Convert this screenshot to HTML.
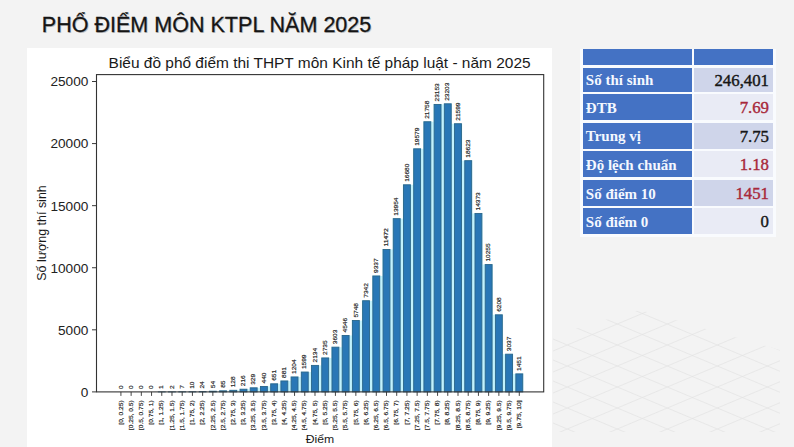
<!DOCTYPE html>
<html><head><meta charset="utf-8">
<style>
html,body{margin:0;padding:0;}
body{width:794px;height:447px;overflow:hidden;position:relative;background:#f3f3f3;font-family:"Liberation Sans",sans-serif;}
svg{position:absolute;left:0;top:0;}
.hc{position:absolute;background:#4472c4;}
.lc{position:absolute;left:582.8px;width:106px;padding-left:3px;background:#4472c4;color:#f4f8ff;font-family:"Liberation Serif",serif;font-weight:bold;font-size:15px;padding-top:2px;white-space:nowrap;}
.rc{position:absolute;left:693.5px;width:75.5px;padding-right:4px;text-align:right;font-family:"Liberation Serif",serif;font-size:16.8px;padding-top:2px;-webkit-text-stroke:0.4px currentColor;white-space:nowrap;}
</style></head><body>
<svg width="794" height="447" viewBox="0 0 794 447" font-family='"Liberation Sans", sans-serif'>
<defs><radialGradient id="gm" cx="0.5" cy="0.5" r="0.6"><stop offset="0" stop-color="#fff" stop-opacity="1"/><stop offset="1" stop-color="#fff" stop-opacity="0"/></radialGradient>
<mask id="mk"><polygon points="553,335 640,310 780,350 780,432 553,432" fill="#fff"/></mask></defs>
<g stroke="#e3e3e3" stroke-width="0.7" mask="url(#mk)">
<line x1="553" y1="192" x2="790" y2="291.5"/>
<line x1="553" y1="204" x2="790" y2="104.5"/>
<line x1="553" y1="213" x2="790" y2="312.5"/>
<line x1="553" y1="225" x2="790" y2="125.5"/>
<line x1="553" y1="234" x2="790" y2="333.5"/>
<line x1="553" y1="246" x2="790" y2="146.5"/>
<line x1="553" y1="255" x2="790" y2="354.5"/>
<line x1="553" y1="267" x2="790" y2="167.5"/>
<line x1="553" y1="276" x2="790" y2="375.5"/>
<line x1="553" y1="288" x2="790" y2="188.5"/>
<line x1="553" y1="297" x2="790" y2="396.5"/>
<line x1="553" y1="309" x2="790" y2="209.5"/>
<line x1="553" y1="318" x2="790" y2="417.5"/>
<line x1="553" y1="330" x2="790" y2="230.5"/>
<line x1="553" y1="339" x2="790" y2="438.5"/>
<line x1="553" y1="351" x2="790" y2="251.5"/>
<line x1="553" y1="360" x2="790" y2="459.5"/>
<line x1="553" y1="372" x2="790" y2="272.5"/>
<line x1="553" y1="381" x2="790" y2="480.5"/>
<line x1="553" y1="393" x2="790" y2="293.5"/>
<line x1="553" y1="402" x2="790" y2="501.5"/>
<line x1="553" y1="414" x2="790" y2="314.5"/>
<line x1="553" y1="423" x2="790" y2="522.5"/>
<line x1="553" y1="435" x2="790" y2="335.5"/>
<line x1="553" y1="444" x2="790" y2="543.5"/>
<line x1="553" y1="456" x2="790" y2="356.5"/>
<line x1="553" y1="465" x2="790" y2="564.5"/>
<line x1="553" y1="477" x2="790" y2="377.5"/>
<line x1="553" y1="486" x2="790" y2="585.5"/>
<line x1="553" y1="498" x2="790" y2="398.5"/>
<line x1="553" y1="507" x2="790" y2="606.5"/>
<line x1="553" y1="519" x2="790" y2="419.5"/>
</g>
<text x="42.8" y="32.5" font-size="22.2" fill="#c4c4c4" textLength="329.5" lengthAdjust="spacingAndGlyphs">PHỔ ĐIỂM MÔN KTPL NĂM 2025</text>
<text x="41.8" y="31.5" font-size="22.2" fill="#151515" textLength="329.5" lengthAdjust="spacingAndGlyphs" stroke="#151515" stroke-width="0.3">PHỔ ĐIỂM MÔN KTPL NĂM 2025</text>
<rect x="27" y="48" width="525" height="399" fill="#ffffff"/>
<rect x="208.60" y="390.83" width="8.50" height="1.07" fill="#d4f6fd"/>
<rect x="218.81" y="390.44" width="8.50" height="1.46" fill="#d4f6fd"/>
<rect x="229.02" y="389.91" width="8.50" height="1.99" fill="#d4f6fd"/>
<rect x="239.24" y="388.82" width="8.50" height="3.08" fill="#d4f6fd"/>
<rect x="249.45" y="387.42" width="8.50" height="4.48" fill="#d4f6fd"/>
<rect x="259.67" y="386.04" width="8.50" height="5.86" fill="#d4f6fd"/>
<rect x="269.88" y="383.42" width="8.50" height="8.48" fill="#d4f6fd"/>
<rect x="280.10" y="380.56" width="8.50" height="11.34" fill="#d4f6fd"/>
<rect x="290.31" y="376.55" width="8.50" height="15.35" fill="#d4f6fd"/>
<rect x="300.53" y="371.65" width="8.50" height="20.25" fill="#d4f6fd"/>
<rect x="310.74" y="365.00" width="8.50" height="26.90" fill="#d4f6fd"/>
<rect x="320.96" y="357.54" width="8.50" height="34.36" fill="#d4f6fd"/>
<rect x="331.17" y="346.77" width="8.50" height="45.13" fill="#d4f6fd"/>
<rect x="341.39" y="335.06" width="8.50" height="56.84" fill="#d4f6fd"/>
<rect x="351.60" y="320.13" width="8.50" height="71.77" fill="#d4f6fd"/>
<rect x="361.82" y="300.34" width="8.50" height="91.56" fill="#d4f6fd"/>
<rect x="372.03" y="275.57" width="8.50" height="116.33" fill="#d4f6fd"/>
<rect x="382.25" y="249.06" width="8.50" height="142.84" fill="#d4f6fd"/>
<rect x="392.46" y="218.25" width="8.50" height="173.65" fill="#d4f6fd"/>
<rect x="402.68" y="184.40" width="8.50" height="207.50" fill="#d4f6fd"/>
<rect x="412.89" y="148.41" width="8.50" height="243.49" fill="#d4f6fd"/>
<rect x="423.10" y="121.35" width="8.50" height="270.55" fill="#d4f6fd"/>
<rect x="433.32" y="104.03" width="8.50" height="287.87" fill="#d4f6fd"/>
<rect x="443.53" y="103.41" width="8.50" height="288.49" fill="#d4f6fd"/>
<rect x="453.75" y="123.33" width="8.50" height="268.57" fill="#d4f6fd"/>
<rect x="463.96" y="160.28" width="8.50" height="231.62" fill="#d4f6fd"/>
<rect x="474.18" y="213.04" width="8.50" height="178.86" fill="#d4f6fd"/>
<rect x="484.39" y="264.17" width="8.50" height="127.73" fill="#d4f6fd"/>
<rect x="494.61" y="314.42" width="8.50" height="77.48" fill="#d4f6fd"/>
<rect x="504.82" y="353.79" width="8.50" height="38.11" fill="#d4f6fd"/>
<rect x="515.04" y="373.48" width="8.50" height="18.42" fill="#d4f6fd"/>
<rect x="215.95" y="391.23" width="4" height="0.67" fill="#c2f2fc"/>
<rect x="226.17" y="390.84" width="4" height="1.06" fill="#c2f2fc"/>
<rect x="236.38" y="390.31" width="4" height="1.59" fill="#c2f2fc"/>
<rect x="246.60" y="389.22" width="4" height="2.68" fill="#c2f2fc"/>
<rect x="256.81" y="387.82" width="4" height="4.08" fill="#c2f2fc"/>
<rect x="267.03" y="386.44" width="4" height="5.46" fill="#c2f2fc"/>
<rect x="277.24" y="383.82" width="4" height="8.08" fill="#c2f2fc"/>
<rect x="287.46" y="380.96" width="4" height="10.94" fill="#c2f2fc"/>
<rect x="297.67" y="376.95" width="4" height="14.95" fill="#c2f2fc"/>
<rect x="307.89" y="372.05" width="4" height="19.85" fill="#c2f2fc"/>
<rect x="318.10" y="365.40" width="4" height="26.50" fill="#c2f2fc"/>
<rect x="328.31" y="357.94" width="4" height="33.96" fill="#c2f2fc"/>
<rect x="338.53" y="347.17" width="4" height="44.73" fill="#c2f2fc"/>
<rect x="348.74" y="335.46" width="4" height="56.44" fill="#c2f2fc"/>
<rect x="358.96" y="320.53" width="4" height="71.37" fill="#c2f2fc"/>
<rect x="369.17" y="300.74" width="4" height="91.16" fill="#c2f2fc"/>
<rect x="379.39" y="275.97" width="4" height="115.93" fill="#c2f2fc"/>
<rect x="389.60" y="249.46" width="4" height="142.44" fill="#c2f2fc"/>
<rect x="399.82" y="218.65" width="4" height="173.25" fill="#c2f2fc"/>
<rect x="410.03" y="184.80" width="4" height="207.10" fill="#c2f2fc"/>
<rect x="420.25" y="148.81" width="4" height="243.09" fill="#c2f2fc"/>
<rect x="430.46" y="121.75" width="4" height="270.15" fill="#c2f2fc"/>
<rect x="440.68" y="104.43" width="4" height="287.47" fill="#c2f2fc"/>
<rect x="450.89" y="123.73" width="4" height="268.17" fill="#c2f2fc"/>
<rect x="461.11" y="160.68" width="4" height="231.22" fill="#c2f2fc"/>
<rect x="471.32" y="213.44" width="4" height="178.46" fill="#c2f2fc"/>
<rect x="481.54" y="264.57" width="4" height="127.33" fill="#c2f2fc"/>
<rect x="491.75" y="314.82" width="4" height="77.08" fill="#c2f2fc"/>
<rect x="501.96" y="354.19" width="4" height="37.71" fill="#c2f2fc"/>
<rect x="512.18" y="373.88" width="4" height="18.02" fill="#c2f2fc"/>
<text transform="translate(122.62,388.90) rotate(-90)" font-size="5.7" fill="#1a1a1a" stroke="#1a1a1a" stroke-width="0.18" textLength="3.63" lengthAdjust="spacingAndGlyphs">0</text>
<line x1="120.91" y1="391.9" x2="120.91" y2="395.9" stroke="#333" stroke-width="0.9"/>
<text transform="translate(122.62,400.30) rotate(-90)" font-size="5.7" fill="#1a1a1a" stroke="#1a1a1a" stroke-width="0.18" text-anchor="end" textLength="24.39" lengthAdjust="spacingAndGlyphs">[0, 0.25)</text>
<text transform="translate(132.84,388.90) rotate(-90)" font-size="5.7" fill="#1a1a1a" stroke="#1a1a1a" stroke-width="0.18" textLength="3.63" lengthAdjust="spacingAndGlyphs">0</text>
<line x1="131.13" y1="391.9" x2="131.13" y2="395.9" stroke="#333" stroke-width="0.9"/>
<text transform="translate(132.84,400.30) rotate(-90)" font-size="5.7" fill="#1a1a1a" stroke="#1a1a1a" stroke-width="0.18" text-anchor="end" textLength="29.83" lengthAdjust="spacingAndGlyphs">[0.25, 0.5)</text>
<text transform="translate(143.05,388.90) rotate(-90)" font-size="5.7" fill="#1a1a1a" stroke="#1a1a1a" stroke-width="0.18" textLength="3.63" lengthAdjust="spacingAndGlyphs">0</text>
<line x1="141.34" y1="391.9" x2="141.34" y2="395.9" stroke="#333" stroke-width="0.9"/>
<text transform="translate(143.05,400.30) rotate(-90)" font-size="5.7" fill="#1a1a1a" stroke="#1a1a1a" stroke-width="0.18" text-anchor="end" textLength="29.83" lengthAdjust="spacingAndGlyphs">[0.5, 0.75)</text>
<text transform="translate(153.27,388.90) rotate(-90)" font-size="5.7" fill="#1a1a1a" stroke="#1a1a1a" stroke-width="0.18" textLength="3.63" lengthAdjust="spacingAndGlyphs">0</text>
<line x1="151.56" y1="391.9" x2="151.56" y2="395.9" stroke="#333" stroke-width="0.9"/>
<text transform="translate(153.27,400.30) rotate(-90)" font-size="5.7" fill="#1a1a1a" stroke="#1a1a1a" stroke-width="0.18" text-anchor="end" textLength="24.39" lengthAdjust="spacingAndGlyphs">[0.75, 1)</text>
<rect x="158.32" y="391.89" width="6.90" height="0.01" fill="#2977b6" stroke="#2b6689" stroke-width="0.9"/>
<text transform="translate(163.48,388.89) rotate(-90)" font-size="5.7" fill="#1a1a1a" stroke="#1a1a1a" stroke-width="0.18" textLength="3.63" lengthAdjust="spacingAndGlyphs">1</text>
<line x1="161.77" y1="391.9" x2="161.77" y2="395.9" stroke="#333" stroke-width="0.9"/>
<text transform="translate(163.48,400.30) rotate(-90)" font-size="5.7" fill="#1a1a1a" stroke="#1a1a1a" stroke-width="0.18" text-anchor="end" textLength="24.39" lengthAdjust="spacingAndGlyphs">[1, 1.25)</text>
<rect x="168.54" y="391.88" width="6.90" height="0.02" fill="#2977b6" stroke="#2b6689" stroke-width="0.9"/>
<text transform="translate(173.70,388.88) rotate(-90)" font-size="5.7" fill="#1a1a1a" stroke="#1a1a1a" stroke-width="0.18" textLength="3.63" lengthAdjust="spacingAndGlyphs">2</text>
<line x1="171.99" y1="391.9" x2="171.99" y2="395.9" stroke="#333" stroke-width="0.9"/>
<text transform="translate(173.70,400.30) rotate(-90)" font-size="5.7" fill="#1a1a1a" stroke="#1a1a1a" stroke-width="0.18" text-anchor="end" textLength="29.83" lengthAdjust="spacingAndGlyphs">[1.25, 1.5)</text>
<rect x="178.75" y="391.81" width="6.90" height="0.09" fill="#2977b6" stroke="#2b6689" stroke-width="0.9"/>
<text transform="translate(183.91,388.81) rotate(-90)" font-size="5.7" fill="#1a1a1a" stroke="#1a1a1a" stroke-width="0.18" textLength="3.63" lengthAdjust="spacingAndGlyphs">7</text>
<line x1="182.20" y1="391.9" x2="182.20" y2="395.9" stroke="#333" stroke-width="0.9"/>
<text transform="translate(183.91,400.30) rotate(-90)" font-size="5.7" fill="#1a1a1a" stroke="#1a1a1a" stroke-width="0.18" text-anchor="end" textLength="29.83" lengthAdjust="spacingAndGlyphs">[1.5, 1.75)</text>
<rect x="188.97" y="391.78" width="6.90" height="0.12" fill="#2977b6" stroke="#2b6689" stroke-width="0.9"/>
<text transform="translate(194.13,388.78) rotate(-90)" font-size="5.7" fill="#1a1a1a" stroke="#1a1a1a" stroke-width="0.18" textLength="7.25" lengthAdjust="spacingAndGlyphs">10</text>
<line x1="192.42" y1="391.9" x2="192.42" y2="395.9" stroke="#333" stroke-width="0.9"/>
<text transform="translate(194.13,400.30) rotate(-90)" font-size="5.7" fill="#1a1a1a" stroke="#1a1a1a" stroke-width="0.18" text-anchor="end" textLength="24.39" lengthAdjust="spacingAndGlyphs">[1.75, 2)</text>
<rect x="199.18" y="391.60" width="6.90" height="0.30" fill="#2977b6" stroke="#2b6689" stroke-width="0.9"/>
<text transform="translate(204.34,388.60) rotate(-90)" font-size="5.7" fill="#1a1a1a" stroke="#1a1a1a" stroke-width="0.18" textLength="7.25" lengthAdjust="spacingAndGlyphs">24</text>
<line x1="202.63" y1="391.9" x2="202.63" y2="395.9" stroke="#333" stroke-width="0.9"/>
<text transform="translate(204.34,400.30) rotate(-90)" font-size="5.7" fill="#1a1a1a" stroke="#1a1a1a" stroke-width="0.18" text-anchor="end" textLength="24.39" lengthAdjust="spacingAndGlyphs">[2, 2.25)</text>
<rect x="209.40" y="391.23" width="6.90" height="0.67" fill="#2977b6" stroke="#2b6689" stroke-width="0.9"/>
<text transform="translate(214.56,388.23) rotate(-90)" font-size="5.7" fill="#1a1a1a" stroke="#1a1a1a" stroke-width="0.18" textLength="7.25" lengthAdjust="spacingAndGlyphs">54</text>
<line x1="212.85" y1="391.9" x2="212.85" y2="395.9" stroke="#333" stroke-width="0.9"/>
<text transform="translate(214.56,400.30) rotate(-90)" font-size="5.7" fill="#1a1a1a" stroke="#1a1a1a" stroke-width="0.18" text-anchor="end" textLength="29.83" lengthAdjust="spacingAndGlyphs">[2.25, 2.5)</text>
<rect x="219.61" y="390.84" width="6.90" height="1.06" fill="#2977b6" stroke="#2b6689" stroke-width="0.9"/>
<text transform="translate(224.77,387.84) rotate(-90)" font-size="5.7" fill="#1a1a1a" stroke="#1a1a1a" stroke-width="0.18" textLength="7.25" lengthAdjust="spacingAndGlyphs">85</text>
<line x1="223.06" y1="391.9" x2="223.06" y2="395.9" stroke="#333" stroke-width="0.9"/>
<text transform="translate(224.77,400.30) rotate(-90)" font-size="5.7" fill="#1a1a1a" stroke="#1a1a1a" stroke-width="0.18" text-anchor="end" textLength="29.83" lengthAdjust="spacingAndGlyphs">[2.5, 2.75)</text>
<rect x="229.82" y="390.31" width="6.90" height="1.59" fill="#2977b6" stroke="#2b6689" stroke-width="0.9"/>
<text transform="translate(234.98,387.31) rotate(-90)" font-size="5.7" fill="#1a1a1a" stroke="#1a1a1a" stroke-width="0.18" textLength="10.88" lengthAdjust="spacingAndGlyphs">128</text>
<line x1="233.27" y1="391.9" x2="233.27" y2="395.9" stroke="#333" stroke-width="0.9"/>
<text transform="translate(234.98,400.30) rotate(-90)" font-size="5.7" fill="#1a1a1a" stroke="#1a1a1a" stroke-width="0.18" text-anchor="end" textLength="24.39" lengthAdjust="spacingAndGlyphs">[2.75, 3)</text>
<rect x="240.04" y="389.22" width="6.90" height="2.68" fill="#2977b6" stroke="#2b6689" stroke-width="0.9"/>
<text transform="translate(245.20,386.22) rotate(-90)" font-size="5.7" fill="#1a1a1a" stroke="#1a1a1a" stroke-width="0.18" textLength="10.88" lengthAdjust="spacingAndGlyphs">216</text>
<line x1="243.49" y1="391.9" x2="243.49" y2="395.9" stroke="#333" stroke-width="0.9"/>
<text transform="translate(245.20,400.30) rotate(-90)" font-size="5.7" fill="#1a1a1a" stroke="#1a1a1a" stroke-width="0.18" text-anchor="end" textLength="24.39" lengthAdjust="spacingAndGlyphs">[3, 3.25)</text>
<rect x="250.25" y="387.82" width="6.90" height="4.08" fill="#2977b6" stroke="#2b6689" stroke-width="0.9"/>
<text transform="translate(255.41,384.82) rotate(-90)" font-size="5.7" fill="#1a1a1a" stroke="#1a1a1a" stroke-width="0.18" textLength="10.88" lengthAdjust="spacingAndGlyphs">329</text>
<line x1="253.70" y1="391.9" x2="253.70" y2="395.9" stroke="#333" stroke-width="0.9"/>
<text transform="translate(255.41,400.30) rotate(-90)" font-size="5.7" fill="#1a1a1a" stroke="#1a1a1a" stroke-width="0.18" text-anchor="end" textLength="29.83" lengthAdjust="spacingAndGlyphs">[3.25, 3.5)</text>
<rect x="260.47" y="386.44" width="6.90" height="5.46" fill="#2977b6" stroke="#2b6689" stroke-width="0.9"/>
<text transform="translate(265.63,383.44) rotate(-90)" font-size="5.7" fill="#1a1a1a" stroke="#1a1a1a" stroke-width="0.18" textLength="10.88" lengthAdjust="spacingAndGlyphs">440</text>
<line x1="263.92" y1="391.9" x2="263.92" y2="395.9" stroke="#333" stroke-width="0.9"/>
<text transform="translate(265.63,400.30) rotate(-90)" font-size="5.7" fill="#1a1a1a" stroke="#1a1a1a" stroke-width="0.18" text-anchor="end" textLength="29.83" lengthAdjust="spacingAndGlyphs">[3.5, 3.75)</text>
<rect x="270.68" y="383.82" width="6.90" height="8.08" fill="#2977b6" stroke="#2b6689" stroke-width="0.9"/>
<text transform="translate(275.84,380.82) rotate(-90)" font-size="5.7" fill="#1a1a1a" stroke="#1a1a1a" stroke-width="0.18" textLength="10.88" lengthAdjust="spacingAndGlyphs">651</text>
<line x1="274.13" y1="391.9" x2="274.13" y2="395.9" stroke="#333" stroke-width="0.9"/>
<text transform="translate(275.84,400.30) rotate(-90)" font-size="5.7" fill="#1a1a1a" stroke="#1a1a1a" stroke-width="0.18" text-anchor="end" textLength="24.39" lengthAdjust="spacingAndGlyphs">[3.75, 4)</text>
<rect x="280.90" y="380.96" width="6.90" height="10.94" fill="#2977b6" stroke="#2b6689" stroke-width="0.9"/>
<text transform="translate(286.06,377.96) rotate(-90)" font-size="5.7" fill="#1a1a1a" stroke="#1a1a1a" stroke-width="0.18" textLength="10.88" lengthAdjust="spacingAndGlyphs">881</text>
<line x1="284.35" y1="391.9" x2="284.35" y2="395.9" stroke="#333" stroke-width="0.9"/>
<text transform="translate(286.06,400.30) rotate(-90)" font-size="5.7" fill="#1a1a1a" stroke="#1a1a1a" stroke-width="0.18" text-anchor="end" textLength="24.39" lengthAdjust="spacingAndGlyphs">[4, 4.25)</text>
<rect x="291.11" y="376.95" width="6.90" height="14.95" fill="#2977b6" stroke="#2b6689" stroke-width="0.9"/>
<text transform="translate(296.27,373.95) rotate(-90)" font-size="5.7" fill="#1a1a1a" stroke="#1a1a1a" stroke-width="0.18" textLength="14.51" lengthAdjust="spacingAndGlyphs">1204</text>
<line x1="294.56" y1="391.9" x2="294.56" y2="395.9" stroke="#333" stroke-width="0.9"/>
<text transform="translate(296.27,400.30) rotate(-90)" font-size="5.7" fill="#1a1a1a" stroke="#1a1a1a" stroke-width="0.18" text-anchor="end" textLength="29.83" lengthAdjust="spacingAndGlyphs">[4.25, 4.5)</text>
<rect x="301.33" y="372.05" width="6.90" height="19.85" fill="#2977b6" stroke="#2b6689" stroke-width="0.9"/>
<text transform="translate(306.49,369.05) rotate(-90)" font-size="5.7" fill="#1a1a1a" stroke="#1a1a1a" stroke-width="0.18" textLength="14.51" lengthAdjust="spacingAndGlyphs">1599</text>
<line x1="304.78" y1="391.9" x2="304.78" y2="395.9" stroke="#333" stroke-width="0.9"/>
<text transform="translate(306.49,400.30) rotate(-90)" font-size="5.7" fill="#1a1a1a" stroke="#1a1a1a" stroke-width="0.18" text-anchor="end" textLength="29.83" lengthAdjust="spacingAndGlyphs">[4.5, 4.75)</text>
<rect x="311.54" y="365.40" width="6.90" height="26.50" fill="#2977b6" stroke="#2b6689" stroke-width="0.9"/>
<text transform="translate(316.70,362.40) rotate(-90)" font-size="5.7" fill="#1a1a1a" stroke="#1a1a1a" stroke-width="0.18" textLength="14.51" lengthAdjust="spacingAndGlyphs">2134</text>
<line x1="314.99" y1="391.9" x2="314.99" y2="395.9" stroke="#333" stroke-width="0.9"/>
<text transform="translate(316.70,400.30) rotate(-90)" font-size="5.7" fill="#1a1a1a" stroke="#1a1a1a" stroke-width="0.18" text-anchor="end" textLength="24.39" lengthAdjust="spacingAndGlyphs">[4.75, 5)</text>
<rect x="321.76" y="357.94" width="6.90" height="33.96" fill="#2977b6" stroke="#2b6689" stroke-width="0.9"/>
<text transform="translate(326.92,354.94) rotate(-90)" font-size="5.7" fill="#1a1a1a" stroke="#1a1a1a" stroke-width="0.18" textLength="14.51" lengthAdjust="spacingAndGlyphs">2735</text>
<line x1="325.21" y1="391.9" x2="325.21" y2="395.9" stroke="#333" stroke-width="0.9"/>
<text transform="translate(326.92,400.30) rotate(-90)" font-size="5.7" fill="#1a1a1a" stroke="#1a1a1a" stroke-width="0.18" text-anchor="end" textLength="24.39" lengthAdjust="spacingAndGlyphs">[5, 5.25)</text>
<rect x="331.97" y="347.17" width="6.90" height="44.73" fill="#2977b6" stroke="#2b6689" stroke-width="0.9"/>
<text transform="translate(337.13,344.17) rotate(-90)" font-size="5.7" fill="#1a1a1a" stroke="#1a1a1a" stroke-width="0.18" textLength="14.51" lengthAdjust="spacingAndGlyphs">3603</text>
<line x1="335.42" y1="391.9" x2="335.42" y2="395.9" stroke="#333" stroke-width="0.9"/>
<text transform="translate(337.13,400.30) rotate(-90)" font-size="5.7" fill="#1a1a1a" stroke="#1a1a1a" stroke-width="0.18" text-anchor="end" textLength="29.83" lengthAdjust="spacingAndGlyphs">[5.25, 5.5)</text>
<rect x="342.19" y="335.46" width="6.90" height="56.44" fill="#2977b6" stroke="#2b6689" stroke-width="0.9"/>
<text transform="translate(347.35,332.46) rotate(-90)" font-size="5.7" fill="#1a1a1a" stroke="#1a1a1a" stroke-width="0.18" textLength="14.51" lengthAdjust="spacingAndGlyphs">4546</text>
<line x1="345.64" y1="391.9" x2="345.64" y2="395.9" stroke="#333" stroke-width="0.9"/>
<text transform="translate(347.35,400.30) rotate(-90)" font-size="5.7" fill="#1a1a1a" stroke="#1a1a1a" stroke-width="0.18" text-anchor="end" textLength="29.83" lengthAdjust="spacingAndGlyphs">[5.5, 5.75)</text>
<rect x="352.40" y="320.53" width="6.90" height="71.37" fill="#2977b6" stroke="#2b6689" stroke-width="0.9"/>
<text transform="translate(357.56,317.53) rotate(-90)" font-size="5.7" fill="#1a1a1a" stroke="#1a1a1a" stroke-width="0.18" textLength="14.51" lengthAdjust="spacingAndGlyphs">5748</text>
<line x1="355.85" y1="391.9" x2="355.85" y2="395.9" stroke="#333" stroke-width="0.9"/>
<text transform="translate(357.56,400.30) rotate(-90)" font-size="5.7" fill="#1a1a1a" stroke="#1a1a1a" stroke-width="0.18" text-anchor="end" textLength="24.39" lengthAdjust="spacingAndGlyphs">[5.75, 6)</text>
<rect x="362.62" y="300.74" width="6.90" height="91.16" fill="#2977b6" stroke="#2b6689" stroke-width="0.9"/>
<text transform="translate(367.78,297.74) rotate(-90)" font-size="5.7" fill="#1a1a1a" stroke="#1a1a1a" stroke-width="0.18" textLength="14.51" lengthAdjust="spacingAndGlyphs">7342</text>
<line x1="366.07" y1="391.9" x2="366.07" y2="395.9" stroke="#333" stroke-width="0.9"/>
<text transform="translate(367.78,400.30) rotate(-90)" font-size="5.7" fill="#1a1a1a" stroke="#1a1a1a" stroke-width="0.18" text-anchor="end" textLength="24.39" lengthAdjust="spacingAndGlyphs">[6, 6.25)</text>
<rect x="372.83" y="275.97" width="6.90" height="115.93" fill="#2977b6" stroke="#2b6689" stroke-width="0.9"/>
<text transform="translate(377.99,272.97) rotate(-90)" font-size="5.7" fill="#1a1a1a" stroke="#1a1a1a" stroke-width="0.18" textLength="14.51" lengthAdjust="spacingAndGlyphs">9337</text>
<line x1="376.28" y1="391.9" x2="376.28" y2="395.9" stroke="#333" stroke-width="0.9"/>
<text transform="translate(377.99,400.30) rotate(-90)" font-size="5.7" fill="#1a1a1a" stroke="#1a1a1a" stroke-width="0.18" text-anchor="end" textLength="29.83" lengthAdjust="spacingAndGlyphs">[6.25, 6.5)</text>
<rect x="383.05" y="249.46" width="6.90" height="142.44" fill="#2977b6" stroke="#2b6689" stroke-width="0.9"/>
<text transform="translate(388.21,246.46) rotate(-90)" font-size="5.7" fill="#1a1a1a" stroke="#1a1a1a" stroke-width="0.18" textLength="18.13" lengthAdjust="spacingAndGlyphs">11472</text>
<line x1="386.50" y1="391.9" x2="386.50" y2="395.9" stroke="#333" stroke-width="0.9"/>
<text transform="translate(388.21,400.30) rotate(-90)" font-size="5.7" fill="#1a1a1a" stroke="#1a1a1a" stroke-width="0.18" text-anchor="end" textLength="29.83" lengthAdjust="spacingAndGlyphs">[6.5, 6.75)</text>
<rect x="393.26" y="218.65" width="6.90" height="173.25" fill="#2977b6" stroke="#2b6689" stroke-width="0.9"/>
<text transform="translate(398.42,215.65) rotate(-90)" font-size="5.7" fill="#1a1a1a" stroke="#1a1a1a" stroke-width="0.18" textLength="18.13" lengthAdjust="spacingAndGlyphs">13954</text>
<line x1="396.71" y1="391.9" x2="396.71" y2="395.9" stroke="#333" stroke-width="0.9"/>
<text transform="translate(398.42,400.30) rotate(-90)" font-size="5.7" fill="#1a1a1a" stroke="#1a1a1a" stroke-width="0.18" text-anchor="end" textLength="24.39" lengthAdjust="spacingAndGlyphs">[6.75, 7)</text>
<rect x="403.48" y="184.80" width="6.90" height="207.10" fill="#2977b6" stroke="#2b6689" stroke-width="0.9"/>
<text transform="translate(408.64,181.80) rotate(-90)" font-size="5.7" fill="#1a1a1a" stroke="#1a1a1a" stroke-width="0.18" textLength="18.13" lengthAdjust="spacingAndGlyphs">16680</text>
<line x1="406.93" y1="391.9" x2="406.93" y2="395.9" stroke="#333" stroke-width="0.9"/>
<text transform="translate(408.64,400.30) rotate(-90)" font-size="5.7" fill="#1a1a1a" stroke="#1a1a1a" stroke-width="0.18" text-anchor="end" textLength="24.39" lengthAdjust="spacingAndGlyphs">[7, 7.25)</text>
<rect x="413.69" y="148.81" width="6.90" height="243.09" fill="#2977b6" stroke="#2b6689" stroke-width="0.9"/>
<text transform="translate(418.85,145.81) rotate(-90)" font-size="5.7" fill="#1a1a1a" stroke="#1a1a1a" stroke-width="0.18" textLength="18.13" lengthAdjust="spacingAndGlyphs">19579</text>
<line x1="417.14" y1="391.9" x2="417.14" y2="395.9" stroke="#333" stroke-width="0.9"/>
<text transform="translate(418.85,400.30) rotate(-90)" font-size="5.7" fill="#1a1a1a" stroke="#1a1a1a" stroke-width="0.18" text-anchor="end" textLength="29.83" lengthAdjust="spacingAndGlyphs">[7.25, 7.5)</text>
<rect x="423.90" y="121.75" width="6.90" height="270.15" fill="#2977b6" stroke="#2b6689" stroke-width="0.9"/>
<text transform="translate(429.06,118.75) rotate(-90)" font-size="5.7" fill="#1a1a1a" stroke="#1a1a1a" stroke-width="0.18" textLength="18.13" lengthAdjust="spacingAndGlyphs">21758</text>
<line x1="427.35" y1="391.9" x2="427.35" y2="395.9" stroke="#333" stroke-width="0.9"/>
<text transform="translate(429.06,400.30) rotate(-90)" font-size="5.7" fill="#1a1a1a" stroke="#1a1a1a" stroke-width="0.18" text-anchor="end" textLength="29.83" lengthAdjust="spacingAndGlyphs">[7.5, 7.75)</text>
<rect x="434.12" y="104.43" width="6.90" height="287.47" fill="#2977b6" stroke="#2b6689" stroke-width="0.9"/>
<text transform="translate(439.28,101.43) rotate(-90)" font-size="5.7" fill="#1a1a1a" stroke="#1a1a1a" stroke-width="0.18" textLength="18.13" lengthAdjust="spacingAndGlyphs">23153</text>
<line x1="437.57" y1="391.9" x2="437.57" y2="395.9" stroke="#333" stroke-width="0.9"/>
<text transform="translate(439.28,400.30) rotate(-90)" font-size="5.7" fill="#1a1a1a" stroke="#1a1a1a" stroke-width="0.18" text-anchor="end" textLength="24.39" lengthAdjust="spacingAndGlyphs">[7.75, 8)</text>
<rect x="444.33" y="103.81" width="6.90" height="288.09" fill="#2977b6" stroke="#2b6689" stroke-width="0.9"/>
<text transform="translate(449.49,100.81) rotate(-90)" font-size="5.7" fill="#1a1a1a" stroke="#1a1a1a" stroke-width="0.18" textLength="18.13" lengthAdjust="spacingAndGlyphs">23203</text>
<line x1="447.78" y1="391.9" x2="447.78" y2="395.9" stroke="#333" stroke-width="0.9"/>
<text transform="translate(449.49,400.30) rotate(-90)" font-size="5.7" fill="#1a1a1a" stroke="#1a1a1a" stroke-width="0.18" text-anchor="end" textLength="24.39" lengthAdjust="spacingAndGlyphs">[8, 8.25)</text>
<rect x="454.55" y="123.73" width="6.90" height="268.17" fill="#2977b6" stroke="#2b6689" stroke-width="0.9"/>
<text transform="translate(459.71,120.73) rotate(-90)" font-size="5.7" fill="#1a1a1a" stroke="#1a1a1a" stroke-width="0.18" textLength="18.13" lengthAdjust="spacingAndGlyphs">21599</text>
<line x1="458.00" y1="391.9" x2="458.00" y2="395.9" stroke="#333" stroke-width="0.9"/>
<text transform="translate(459.71,400.30) rotate(-90)" font-size="5.7" fill="#1a1a1a" stroke="#1a1a1a" stroke-width="0.18" text-anchor="end" textLength="29.83" lengthAdjust="spacingAndGlyphs">[8.25, 8.5)</text>
<rect x="464.76" y="160.68" width="6.90" height="231.22" fill="#2977b6" stroke="#2b6689" stroke-width="0.9"/>
<text transform="translate(469.92,157.68) rotate(-90)" font-size="5.7" fill="#1a1a1a" stroke="#1a1a1a" stroke-width="0.18" textLength="18.13" lengthAdjust="spacingAndGlyphs">18623</text>
<line x1="468.21" y1="391.9" x2="468.21" y2="395.9" stroke="#333" stroke-width="0.9"/>
<text transform="translate(469.92,400.30) rotate(-90)" font-size="5.7" fill="#1a1a1a" stroke="#1a1a1a" stroke-width="0.18" text-anchor="end" textLength="29.83" lengthAdjust="spacingAndGlyphs">[8.5, 8.75)</text>
<rect x="474.98" y="213.44" width="6.90" height="178.46" fill="#2977b6" stroke="#2b6689" stroke-width="0.9"/>
<text transform="translate(480.14,210.44) rotate(-90)" font-size="5.7" fill="#1a1a1a" stroke="#1a1a1a" stroke-width="0.18" textLength="18.13" lengthAdjust="spacingAndGlyphs">14373</text>
<line x1="478.43" y1="391.9" x2="478.43" y2="395.9" stroke="#333" stroke-width="0.9"/>
<text transform="translate(480.14,400.30) rotate(-90)" font-size="5.7" fill="#1a1a1a" stroke="#1a1a1a" stroke-width="0.18" text-anchor="end" textLength="24.39" lengthAdjust="spacingAndGlyphs">[8.75, 9)</text>
<rect x="485.19" y="264.57" width="6.90" height="127.33" fill="#2977b6" stroke="#2b6689" stroke-width="0.9"/>
<text transform="translate(490.35,261.57) rotate(-90)" font-size="5.7" fill="#1a1a1a" stroke="#1a1a1a" stroke-width="0.18" textLength="18.13" lengthAdjust="spacingAndGlyphs">10255</text>
<line x1="488.64" y1="391.9" x2="488.64" y2="395.9" stroke="#333" stroke-width="0.9"/>
<text transform="translate(490.35,400.30) rotate(-90)" font-size="5.7" fill="#1a1a1a" stroke="#1a1a1a" stroke-width="0.18" text-anchor="end" textLength="24.39" lengthAdjust="spacingAndGlyphs">[9, 9.25)</text>
<rect x="495.41" y="314.82" width="6.90" height="77.08" fill="#2977b6" stroke="#2b6689" stroke-width="0.9"/>
<text transform="translate(500.57,311.82) rotate(-90)" font-size="5.7" fill="#1a1a1a" stroke="#1a1a1a" stroke-width="0.18" textLength="14.51" lengthAdjust="spacingAndGlyphs">6208</text>
<line x1="498.86" y1="391.9" x2="498.86" y2="395.9" stroke="#333" stroke-width="0.9"/>
<text transform="translate(500.57,400.30) rotate(-90)" font-size="5.7" fill="#1a1a1a" stroke="#1a1a1a" stroke-width="0.18" text-anchor="end" textLength="29.83" lengthAdjust="spacingAndGlyphs">[9.25, 9.5)</text>
<rect x="505.62" y="354.19" width="6.90" height="37.71" fill="#2977b6" stroke="#2b6689" stroke-width="0.9"/>
<text transform="translate(510.78,351.19) rotate(-90)" font-size="5.7" fill="#1a1a1a" stroke="#1a1a1a" stroke-width="0.18" textLength="14.51" lengthAdjust="spacingAndGlyphs">3037</text>
<line x1="509.07" y1="391.9" x2="509.07" y2="395.9" stroke="#333" stroke-width="0.9"/>
<text transform="translate(510.78,400.30) rotate(-90)" font-size="5.7" fill="#1a1a1a" stroke="#1a1a1a" stroke-width="0.18" text-anchor="end" textLength="29.83" lengthAdjust="spacingAndGlyphs">[9.5, 9.75)</text>
<rect x="515.84" y="373.88" width="6.90" height="18.02" fill="#2977b6" stroke="#2b6689" stroke-width="0.9"/>
<text transform="translate(521.00,370.88) rotate(-90)" font-size="5.7" fill="#1a1a1a" stroke="#1a1a1a" stroke-width="0.18" textLength="14.51" lengthAdjust="spacingAndGlyphs">1451</text>
<line x1="519.29" y1="391.9" x2="519.29" y2="395.9" stroke="#333" stroke-width="0.9"/>
<text transform="translate(521.00,400.30) rotate(-90)" font-size="5.7" fill="#1a1a1a" stroke="#1a1a1a" stroke-width="0.18" text-anchor="end" textLength="28.02" lengthAdjust="spacingAndGlyphs">[9.75, 10]</text>
<line x1="92.0" y1="391.90" x2="96.5" y2="391.90" stroke="#222" stroke-width="0.9"/>
<text x="88.3" y="396.78" font-size="11.9" fill="#222" text-anchor="end" textLength="7.57" lengthAdjust="spacingAndGlyphs">0</text>
<line x1="92.0" y1="329.82" x2="96.5" y2="329.82" stroke="#222" stroke-width="0.9"/>
<text x="88.3" y="334.70" font-size="11.9" fill="#222" text-anchor="end" textLength="30.28" lengthAdjust="spacingAndGlyphs">5000</text>
<line x1="92.0" y1="267.74" x2="96.5" y2="267.74" stroke="#222" stroke-width="0.9"/>
<text x="88.3" y="272.62" font-size="11.9" fill="#222" text-anchor="end" textLength="37.86" lengthAdjust="spacingAndGlyphs">10000</text>
<line x1="92.0" y1="205.66" x2="96.5" y2="205.66" stroke="#222" stroke-width="0.9"/>
<text x="88.3" y="210.54" font-size="11.9" fill="#222" text-anchor="end" textLength="37.86" lengthAdjust="spacingAndGlyphs">15000</text>
<line x1="92.0" y1="143.58" x2="96.5" y2="143.58" stroke="#222" stroke-width="0.9"/>
<text x="88.3" y="148.46" font-size="11.9" fill="#222" text-anchor="end" textLength="37.86" lengthAdjust="spacingAndGlyphs">20000</text>
<line x1="92.0" y1="81.50" x2="96.5" y2="81.50" stroke="#222" stroke-width="0.9"/>
<text x="88.3" y="86.38" font-size="11.9" fill="#222" text-anchor="end" textLength="37.86" lengthAdjust="spacingAndGlyphs">25000</text>
<rect x="96.5" y="74.6" width="447.20000000000005" height="317.29999999999995" fill="none" stroke="#333" stroke-width="1.1"/>
<text x="319.6" y="67.9" font-size="13.9" fill="#1a1a1a" text-anchor="middle" textLength="422" lengthAdjust="spacingAndGlyphs">Biểu đồ phổ điểm thi THPT môn Kinh tế pháp luật - năm 2025</text>
<text transform="translate(45.8,233) rotate(-90)" font-size="12" fill="#1a1a1a" text-anchor="middle" textLength="95.5" lengthAdjust="spacingAndGlyphs">Số lượng thí sinh</text>
<text x="320" y="443" font-size="10.8" fill="#1a1a1a" text-anchor="middle" textLength="28.5" lengthAdjust="spacingAndGlyphs">Điểm</text>
</svg>
<div style="position:absolute;left:579.5px;top:48.5px;width:196px;height:188px;background:#f9fbfe"></div>
<div class="hc" style="left:582.8px;top:49.1px;width:109px;height:15.7px"></div>
<div class="hc" style="left:693.5px;top:49.1px;width:79.5px;height:15.7px"></div>
<div class="lc" style="top:67.8px;height:21.9px;line-height:21.9px">Số thí sinh</div>
<div class="rc" style="top:67.8px;height:21.9px;line-height:21.9px;background:#cfd5ea;color:#161616">246,401</div>
<div class="lc" style="top:94.3px;height:24.0px;line-height:24.0px">ĐTB</div>
<div class="rc" style="top:94.3px;height:24.0px;line-height:24.0px;background:#e9ebf5;color:#a8283a">7.69</div>
<div class="lc" style="top:122.8px;height:23.9px;line-height:23.9px">Trung vị</div>
<div class="rc" style="top:122.8px;height:23.9px;line-height:23.9px;background:#cfd5ea;color:#161616">7.75</div>
<div class="lc" style="top:151.2px;height:24.2px;line-height:24.2px">Độ lệch chuẩn</div>
<div class="rc" style="top:151.2px;height:24.2px;line-height:24.2px;background:#e9ebf5;color:#a8283a">1.18</div>
<div class="lc" style="top:179.6px;height:24.0px;line-height:24.0px">Số điểm 10</div>
<div class="rc" style="top:179.6px;height:24.0px;line-height:24.0px;background:#cfd5ea;color:#a8283a">1451</div>
<div class="lc" style="top:207.9px;height:24.5px;line-height:24.5px">Số điểm 0</div>
<div class="rc" style="top:207.9px;height:24.5px;line-height:24.5px;background:#e9ebf5;color:#161616">0</div>
</body></html>
